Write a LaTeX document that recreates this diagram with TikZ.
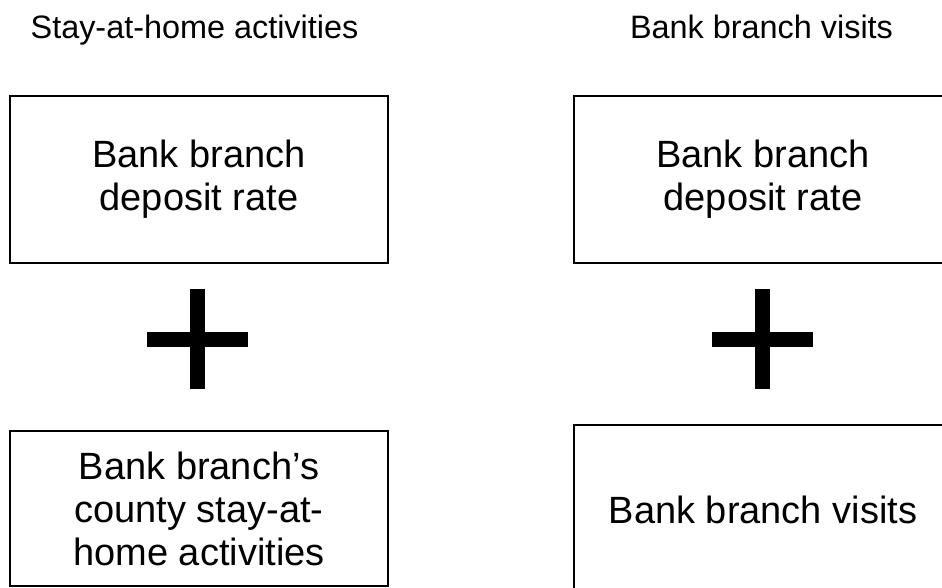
\documentclass[tikz,border=0pt]{standalone}
\usepackage{fontspec}
\setmainfont{Liberation Sans}
\tikzset{
  termbox/.style={draw,line width=2pt,minimum width=378pt,align=center,
    inner sep=0pt,font=\fontsize{38}{43}\selectfont},
  headline/.style={anchor=base,font=\fontsize{32.4}{38}\selectfont},
  plusbar/.style={line width=15pt}
}

\begin{document}
\begin{tikzpicture}[x=1pt,y=-1pt]
    \clip (0,0) rectangle (942,588);

    % column titles
    \node[headline] (titleL) at (194.5,39) {Stay-at-home activities};
    \node[headline] (titleR) at (761.5,39) {Bank branch visits};

    % upper boxes
    \node[termbox,minimum height=167pt] (rateL) at (199,179.5) {Bank branch\\deposit rate};
    \node[termbox,minimum height=167pt] (rateR) at (763,179.5) {Bank branch\\deposit rate};

    % plus signs
    \foreach \cx in {197.5,762.5}{
      \draw[plusbar] (\cx,289) -- (\cx,389);
      \draw[plusbar] (\cx-50.5,339.5) -- (\cx+50.5,339.5);
    }

    % lower boxes
    \node[termbox,minimum height=155pt] (homeL) at (199,508.5) {Bank branch’s\\county stay-at-\\home activities};
    \node[termbox,minimum height=170pt] (visitR) at (763,510) {Bank branch visits};

\end{tikzpicture}
\end{document}
